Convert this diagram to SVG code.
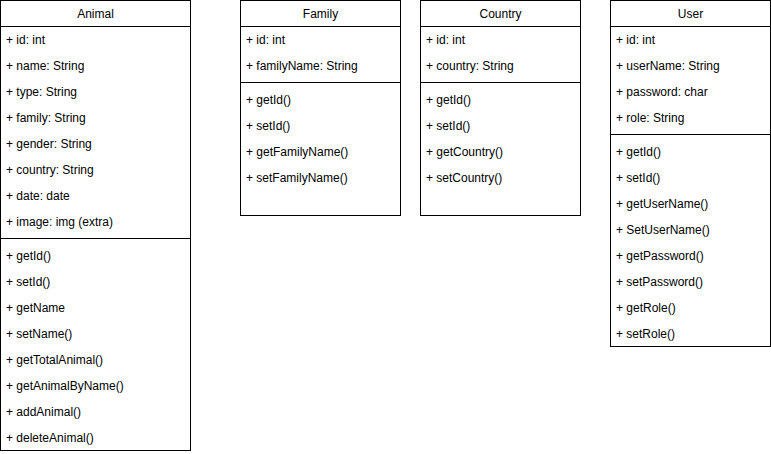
<svg xmlns="http://www.w3.org/2000/svg" width="771" height="454" viewBox="0 0 771 454">
<style>
.box{fill:#fff;stroke:#000;stroke-width:1}
.ln{stroke:#000;stroke-width:1}
text{font-family:"Liberation Sans",Arial,sans-serif;font-size:12px;fill:#000}
.h{text-anchor:middle}
</style>
<rect width="771" height="454" fill="#fff"/>
<g id="Animal">
<rect class="box" x="0.5" y="0.5" width="190" height="450"/>
<line class="ln" x1="0.5" y1="26.5" x2="190.5" y2="26.5"/>
<line class="ln" x1="0.5" y1="238.5" x2="190.5" y2="238.5"/>
<text class="h" x="95.5" y="18">Animal</text>
<text x="6" y="44">+ id: int</text>
<text x="6" y="70">+ name: String</text>
<text x="6" y="96">+ type: String</text>
<text x="6" y="122">+ family: String</text>
<text x="6" y="148">+ gender: String</text>
<text x="6" y="174">+ country: String</text>
<text x="6" y="200">+ date: date</text>
<text x="6" y="226">+ image: img (extra)</text>
<text x="6" y="260">+ getId()</text>
<text x="6" y="286">+ setId()</text>
<text x="6" y="312">+ getName</text>
<text x="6" y="338">+ setName()</text>
<text x="6" y="364">+ getTotalAnimal()</text>
<text x="6" y="390">+ getAnimalByName()</text>
<text x="6" y="416">+ addAnimal()</text>
<text x="6" y="442">+ deleteAnimal()</text>
</g>
<g id="Family">
<rect class="box" x="240.5" y="0.5" width="160" height="215"/>
<line class="ln" x1="240.5" y1="26.5" x2="400.5" y2="26.5"/>
<line class="ln" x1="240.5" y1="82.5" x2="400.5" y2="82.5"/>
<text class="h" x="320.5" y="18">Family</text>
<text x="246" y="44">+ id: int</text>
<text x="246" y="70">+ familyName: String</text>
<text x="246" y="104">+ getId()</text>
<text x="246" y="130">+ setId()</text>
<text x="246" y="156">+ getFamilyName()</text>
<text x="246" y="182">+ setFamilyName()</text>
</g>
<g id="Country">
<rect class="box" x="420.5" y="0.5" width="160" height="215"/>
<line class="ln" x1="420.5" y1="26.5" x2="580.5" y2="26.5"/>
<line class="ln" x1="420.5" y1="82.5" x2="580.5" y2="82.5"/>
<text class="h" x="500.5" y="18">Country</text>
<text x="426" y="44">+ id: int</text>
<text x="426" y="70">+ country: String</text>
<text x="426" y="104">+ getId()</text>
<text x="426" y="130">+ setId()</text>
<text x="426" y="156">+ getCountry()</text>
<text x="426" y="182">+ setCountry()</text>
</g>
<g id="User">
<rect class="box" x="610.5" y="0.5" width="160" height="346"/>
<line class="ln" x1="610.5" y1="26.5" x2="770.5" y2="26.5"/>
<line class="ln" x1="610.5" y1="134.5" x2="770.5" y2="134.5"/>
<text class="h" x="690.5" y="18">User</text>
<text x="616" y="44">+ id: int</text>
<text x="616" y="70">+ userName: String</text>
<text x="616" y="96">+ password: char</text>
<text x="616" y="122">+ role: String</text>
<text x="616" y="156">+ getId()</text>
<text x="616" y="182">+ setId()</text>
<text x="616" y="208">+ getUserName()</text>
<text x="616" y="234">+ SetUserName()</text>
<text x="616" y="260">+ getPassword()</text>
<text x="616" y="286">+ setPassword()</text>
<text x="616" y="312">+ getRole()</text>
<text x="616" y="338">+ setRole()</text>
</g>
<g id="connectors"></g>
</svg>
